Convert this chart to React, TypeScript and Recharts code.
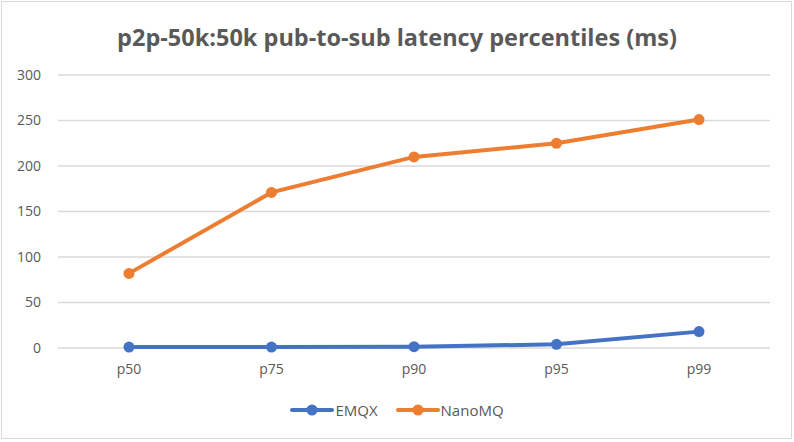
import React from "react";
import { CartesianGrid, Line, LineChart, XAxis, YAxis } from "recharts";

const categories = ["p50", "p75", "p90", "p95", "p99"];
const emqx = [1, 1, 1.5, 4, 18];
const nanomq = [82, 171, 210, 225, 251];
const yTicks = [0, 50, 100, 150, 200, 250, 300];

const BLUE = "#4472C4";
const ORANGE = "#ED7D31";
const TEXT = "#595959";
const FONT = "'Open Sans', sans-serif";

const data = categories.map((c, i) => ({ name: c, EMQX: emqx[i], NanoMQ: nanomq[i] }));

function LegendItem({ color, label }: { color: string; label: string }) {
  return (
    <span style={{ display: "inline-flex", alignItems: "center", margin: "0 9px" }}>
      <svg width={44} height={14}>
        <line x1={2} y1={7} x2={42} y2={7} stroke={color} strokeWidth={4} strokeLinecap="round" />
        <circle cx={22} cy={7} r={5.5} fill={color} />
      </svg>
      <span style={{ marginLeft: 1 }}>{label}</span>
    </span>
  );
}

export default function App() {
  return (
    <div
      style={{
        position: "absolute",
        left: 0,
        top: 0,
        width: 794,
        height: 442,
        background: "#fff",
        fontFamily: FONT,
      }}
    >
      <div
        style={{
          position: "absolute",
          left: 1,
          top: 1,
          width: 789,
          height: 436,
          border: "1.5px solid #D9D9D9",
        }}
      />
      <div
        style={{
          position: "absolute",
          top: 21,
          width: 794,
          textAlign: "center",
          fontSize: 23.5,
          fontWeight: 700,
          color: TEXT,
        }}
      >
        p2p-50k:50k pub-to-sub latency percentiles (ms)
      </div>
      <div style={{ position: "absolute", left: 0, top: 0 }}>
        <LineChart width={794} height={442} data={data} margin={{ top: 75, right: 24, bottom: 64, left: 0 }}>
          <CartesianGrid stroke="#D9D9D9" strokeWidth={1.3} vertical={false} />
          <XAxis
            dataKey="name"
            height={30}
            padding={{ left: 71, right: 71 }}
            axisLine={false}
            tickLine={false}
            tick={{ fill: TEXT, fontSize: 14, fontFamily: FONT }}
            tickMargin={10}
          />
          <YAxis
            width={58}
            domain={[0, 300]}
            ticks={yTicks}
            axisLine={false}
            tickLine={false}
            tick={{ fill: TEXT, fontSize: 14, fontFamily: FONT }}
            tickMargin={11}
          />
          <Line
            type="linear"
            dataKey="EMQX"
            stroke={BLUE}
            strokeWidth={4}
            dot={{ r: 5.5, fill: BLUE, stroke: BLUE, strokeWidth: 0 }}
            isAnimationActive={false}
          />
          <Line
            type="linear"
            dataKey="NanoMQ"
            stroke={ORANGE}
            strokeWidth={4}
            dot={{ r: 5.5, fill: ORANGE, stroke: ORANGE, strokeWidth: 0 }}
            isAnimationActive={false}
          />
        </LineChart>
      </div>
      <div
        style={{
          position: "absolute",
          top: 400,
          width: 794,
          display: "flex",
          justifyContent: "center",
          fontSize: 15,
          color: TEXT,
        }}
      >
        <LegendItem color={BLUE} label="EMQX" />
        <LegendItem color={ORANGE} label="NanoMQ" />
      </div>
    </div>
  );
}
